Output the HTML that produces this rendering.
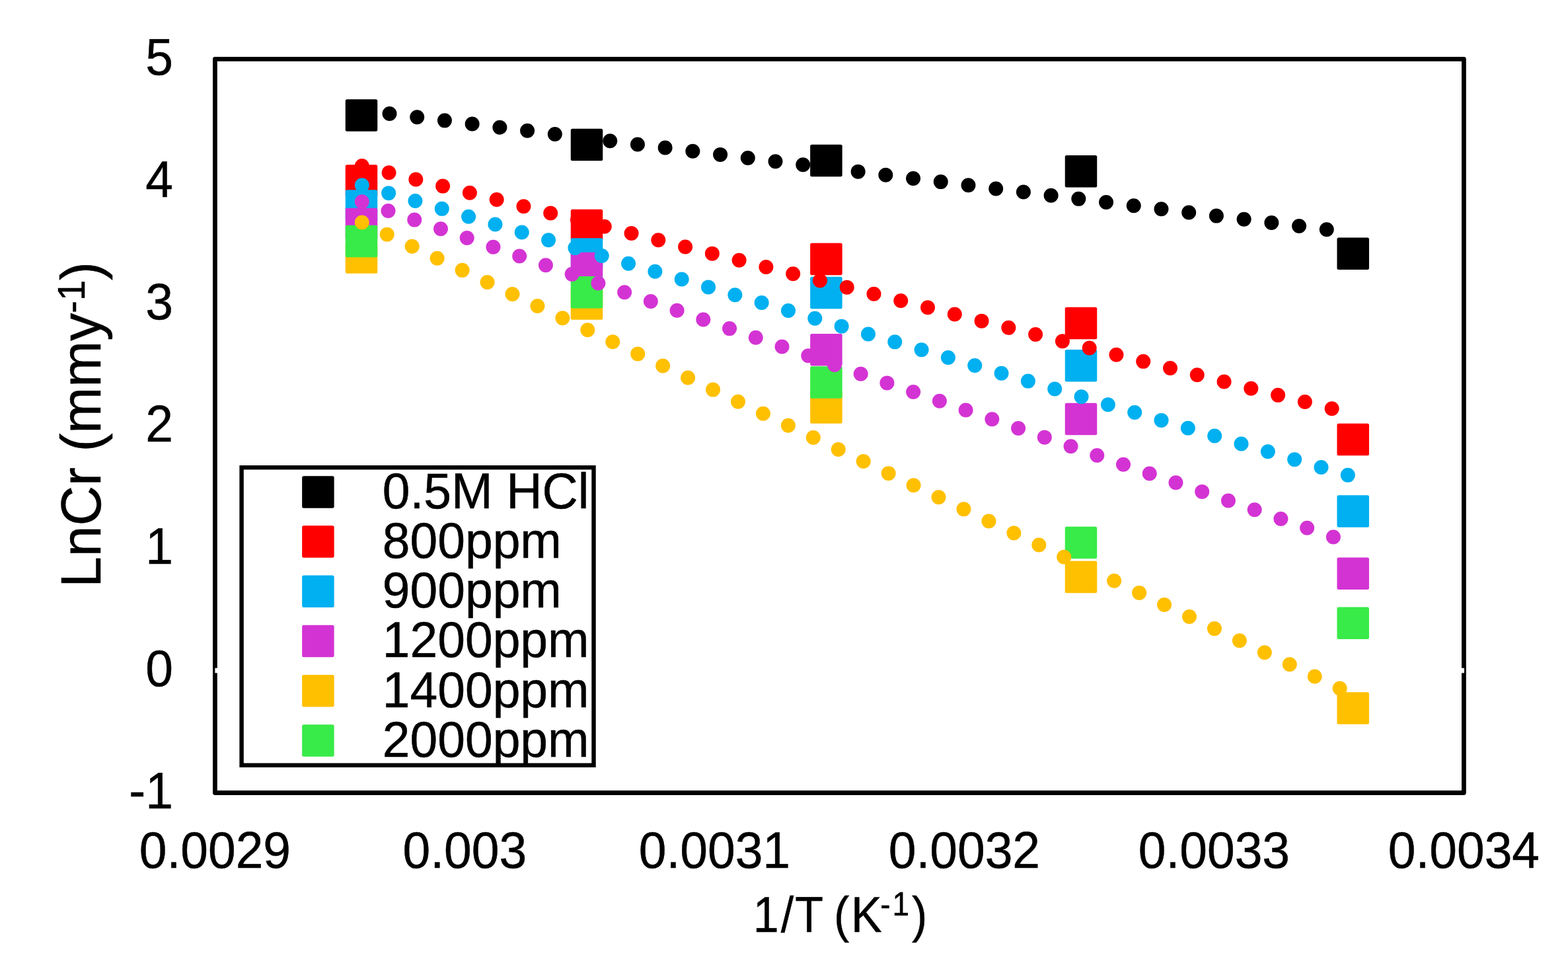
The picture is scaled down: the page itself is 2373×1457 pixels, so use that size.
<!DOCTYPE html><html><head><meta charset="utf-8"><style>html,body{margin:0;padding:0;background:#fff;overflow:hidden}svg{display:block}</style></head><body>
<svg width="2373" height="1457" viewBox="0 0 2373 1457">
<rect width="2373" height="1457" fill="#fff"/>
<defs><clipPath id="lgclip" clipPathUnits="userSpaceOnUse"><rect x="362.4" y="704.1" width="539.3" height="456.9"/></clipPath></defs>
<rect x="325.4" y="89.4" width="1890.0" height="1110.1" fill="none" stroke="#000" stroke-width="6.8" stroke-linejoin="round"/>
<line x1="325.4" y1="1014.5" x2="2216.0" y2="1014.5" stroke="#fff" stroke-width="7.3"/>
<text transform="translate(262.00,112.90) scale(1,1.03)" font-family="Liberation Sans, Arial, sans-serif" font-size="75" text-anchor="end" stroke="#000" stroke-width="0.5" >5</text>
<text transform="translate(262.00,297.92) scale(1,1.03)" font-family="Liberation Sans, Arial, sans-serif" font-size="75" text-anchor="end" stroke="#000" stroke-width="0.5" >4</text>
<text transform="translate(262.00,482.93) scale(1,1.03)" font-family="Liberation Sans, Arial, sans-serif" font-size="75" text-anchor="end" stroke="#000" stroke-width="0.5" >3</text>
<text transform="translate(262.00,667.95) scale(1,1.03)" font-family="Liberation Sans, Arial, sans-serif" font-size="75" text-anchor="end" stroke="#000" stroke-width="0.5" >2</text>
<text transform="translate(262.00,852.97) scale(1,1.03)" font-family="Liberation Sans, Arial, sans-serif" font-size="75" text-anchor="end" stroke="#000" stroke-width="0.5" >1</text>
<text transform="translate(262.00,1037.98) scale(1,1.03)" font-family="Liberation Sans, Arial, sans-serif" font-size="75" text-anchor="end" stroke="#000" stroke-width="0.5" >0</text>
<text transform="translate(262.00,1223.00) scale(1,1.03)" font-family="Liberation Sans, Arial, sans-serif" font-size="75" text-anchor="end" stroke="#000" stroke-width="0.5" >-1</text>
<text transform="translate(325.40,1313.00) scale(1,1.03)" font-family="Liberation Sans, Arial, sans-serif" font-size="75" text-anchor="middle" stroke="#000" stroke-width="0.5" >0.0029</text>
<text transform="translate(703.40,1313.00) scale(1,1.03)" font-family="Liberation Sans, Arial, sans-serif" font-size="75" text-anchor="middle" stroke="#000" stroke-width="0.5" >0.003</text>
<text transform="translate(1081.40,1313.00) scale(1,1.03)" font-family="Liberation Sans, Arial, sans-serif" font-size="75" text-anchor="middle" stroke="#000" stroke-width="0.5" >0.0031</text>
<text transform="translate(1459.40,1313.00) scale(1,1.03)" font-family="Liberation Sans, Arial, sans-serif" font-size="75" text-anchor="middle" stroke="#000" stroke-width="0.5" >0.0032</text>
<text transform="translate(1837.40,1313.00) scale(1,1.03)" font-family="Liberation Sans, Arial, sans-serif" font-size="75" text-anchor="middle" stroke="#000" stroke-width="0.5" >0.0033</text>
<text transform="translate(2215.40,1313.00) scale(1,1.03)" font-family="Liberation Sans, Arial, sans-serif" font-size="75" text-anchor="middle" stroke="#000" stroke-width="0.5" >0.0034</text>
<rect x="522.75" y="150.25" width="48.5" height="48.5" rx="2.5" fill="#000000"/>
<rect x="863.75" y="194.65" width="48.5" height="48.5" rx="2.5" fill="#000000"/>
<rect x="1226.15" y="218.75" width="48.5" height="48.5" rx="2.5" fill="#000000"/>
<rect x="1611.75" y="235.05" width="48.5" height="48.5" rx="2.5" fill="#000000"/>
<rect x="2023.45" y="359.45" width="48.5" height="48.5" rx="2.5" fill="#000000"/>
<rect x="522.75" y="249.15" width="48.5" height="48.5" rx="2.5" fill="#FF0000"/>
<rect x="863.75" y="316.75" width="48.5" height="48.5" rx="2.5" fill="#FF0000"/>
<rect x="1226.15" y="367.75" width="48.5" height="48.5" rx="2.5" fill="#FF0000"/>
<rect x="1611.75" y="464.65" width="48.5" height="48.5" rx="2.5" fill="#FF0000"/>
<rect x="2023.45" y="640.75" width="48.5" height="48.5" rx="2.5" fill="#FF0000"/>
<rect x="522.75" y="287.25" width="48.5" height="48.5" rx="2.5" fill="#00B0F0"/>
<rect x="863.75" y="360.25" width="48.5" height="48.5" rx="2.5" fill="#00B0F0"/>
<rect x="1226.15" y="418.75" width="48.5" height="48.5" rx="2.5" fill="#00B0F0"/>
<rect x="1611.75" y="529.05" width="48.5" height="48.5" rx="2.5" fill="#00B0F0"/>
<rect x="2023.45" y="749.15" width="48.5" height="48.5" rx="2.5" fill="#00B0F0"/>
<rect x="522.75" y="314.75" width="48.5" height="48.5" rx="2.5" fill="#D433D4"/>
<rect x="863.75" y="381.75" width="48.5" height="48.5" rx="2.5" fill="#D433D4"/>
<rect x="1226.15" y="504.95" width="48.5" height="48.5" rx="2.5" fill="#D433D4"/>
<rect x="1611.75" y="609.65" width="48.5" height="48.5" rx="2.5" fill="#D433D4"/>
<rect x="2023.45" y="843.55" width="48.5" height="48.5" rx="2.5" fill="#D433D4"/>
<rect x="522.75" y="365.15" width="48.5" height="48.5" rx="2.5" fill="#FFC000"/>
<rect x="863.75" y="435.35" width="48.5" height="48.5" rx="2.5" fill="#FFC000"/>
<rect x="1226.15" y="592.25" width="48.5" height="48.5" rx="2.5" fill="#FFC000"/>
<rect x="1611.75" y="848.65" width="48.5" height="48.5" rx="2.5" fill="#FFC000"/>
<rect x="2023.45" y="1047.25" width="48.5" height="48.5" rx="2.5" fill="#FFC000"/>
<rect x="522.75" y="340.75" width="48.5" height="48.5" rx="2.5" fill="#38EB48"/>
<rect x="863.75" y="417.95" width="48.5" height="48.5" rx="2.5" fill="#38EB48"/>
<rect x="1226.15" y="554.25" width="48.5" height="48.5" rx="2.5" fill="#38EB48"/>
<rect x="1611.75" y="796.65" width="48.5" height="48.5" rx="2.5" fill="#38EB48"/>
<rect x="2023.45" y="918.55" width="48.5" height="48.5" rx="2.5" fill="#38EB48"/>
<line x1="547.8" y1="166.91" x2="2048.5" y2="352.26" stroke="#000000" stroke-width="22" stroke-linecap="round" stroke-dasharray="0 42.03"/>
<line x1="547.8" y1="251.00" x2="2048.5" y2="626.50" stroke="#FF0000" stroke-width="22" stroke-linecap="round" stroke-dasharray="0 42.03"/>
<line x1="547.8" y1="280.30" x2="2048.5" y2="721.41" stroke="#00B0F0" stroke-width="22" stroke-linecap="round" stroke-dasharray="0 42.03"/>
<line x1="547.8" y1="305.20" x2="2048.5" y2="823.00" stroke="#D433D4" stroke-width="22" stroke-linecap="round" stroke-dasharray="0 42.03"/>
<line x1="547.8" y1="336.56" x2="2048.5" y2="1051.42" stroke="#FFC000" stroke-width="22" stroke-linecap="round" stroke-dasharray="0 42.03"/>
<rect x="365.6" y="707.3" width="532.9" height="450.5" fill="#fff" stroke="#000" stroke-width="6.4"/>
<rect x="457.15" y="720.15" width="48.5" height="48.5" rx="2.5" fill="#000000"/>
<rect x="457.15" y="795.35" width="48.5" height="48.5" rx="2.5" fill="#FF0000"/>
<rect x="457.15" y="870.55" width="48.5" height="48.5" rx="2.5" fill="#00B0F0"/>
<rect x="457.15" y="945.75" width="48.5" height="48.5" rx="2.5" fill="#D433D4"/>
<rect x="457.15" y="1020.95" width="48.5" height="48.5" rx="2.5" fill="#FFC000"/>
<rect x="457.15" y="1096.15" width="48.5" height="48.5" rx="2.5" fill="#38EB48"/>
<g clip-path="url(#lgclip)">
<text transform="translate(578.80,768.50) scale(1,1.02)" font-family="Liberation Sans, Arial, sans-serif" font-size="75" text-anchor="start" stroke="#000" stroke-width="0.5" >0.5M HCl</text>
<text transform="translate(578.80,843.80) scale(1,1.02)" font-family="Liberation Sans, Arial, sans-serif" font-size="75" text-anchor="start" stroke="#000" stroke-width="0.5" >800ppm</text>
<text transform="translate(578.80,919.10) scale(1,1.02)" font-family="Liberation Sans, Arial, sans-serif" font-size="75" text-anchor="start" stroke="#000" stroke-width="0.5" >900ppm</text>
<text transform="translate(578.80,994.40) scale(1,1.02)" font-family="Liberation Sans, Arial, sans-serif" font-size="75" text-anchor="start" stroke="#000" stroke-width="0.5" >1200ppm</text>
<text transform="translate(578.80,1069.70) scale(1,1.02)" font-family="Liberation Sans, Arial, sans-serif" font-size="75" text-anchor="start" stroke="#000" stroke-width="0.5" >1400ppm</text>
<text transform="translate(578.80,1145.00) scale(1,1.02)" font-family="Liberation Sans, Arial, sans-serif" font-size="75" text-anchor="start" stroke="#000" stroke-width="0.5" >2000ppm</text>
</g>
<text transform="translate(1139.86,1409.6) scale(0.92,1)" font-family="Liberation Sans, Arial, sans-serif" font-size="76" stroke="#000" stroke-width="0.5"><tspan dx="0 3.18 2.41 0 -2.46 2.99">1/T (K</tspan><tspan font-size="50" dy="-25" dx="-2.45 2.95">-1</tspan><tspan dy="25" dx="4.31">)</tspan></text>
<text transform="translate(152,642.5) rotate(-90) scale(1,1.02)" font-family="Liberation Sans, Arial, sans-serif" font-size="84" text-anchor="middle" stroke="#000" stroke-width="0.5">LnCr (mmy<tspan font-size="56" dy="-23.5">-1</tspan><tspan dy="23.5">)</tspan></text>
</svg>
</body></html>
